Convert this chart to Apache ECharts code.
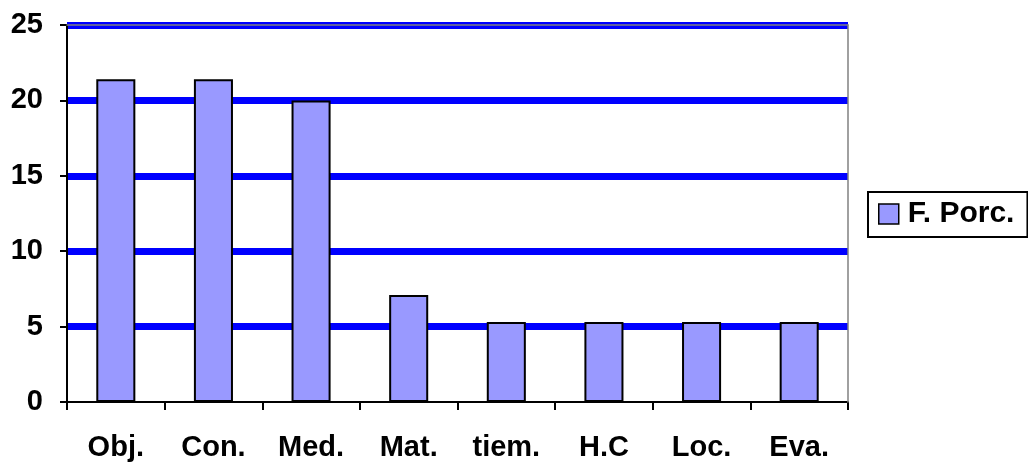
<!DOCTYPE html>
<html>
<head>
<meta charset="utf-8">
<script src="https://cdn.jsdelivr.net/npm/echarts@6/dist/echarts.min.js"></script>
<style>html,body{margin:0;padding:0;background:#fff;}#c{width:1028px;height:465px;}</style>
</head>
<body>
<div id="c"></div>
<script>
var categories = ['Obj.', 'Con.', 'Med.', 'Mat.', 'tiem.', 'H.C', 'Loc.', 'Eva.'];
var values = [21.4, 21.4, 20, 7.1, 5.3, 5.3, 5.3, 5.3];
var seriesName = 'F. Porc.';
var yMin = 0, yMax = 25, yStep = 5;

var font = '"Liberation Sans", Arial, sans-serif';
var chart = echarts.init(document.getElementById('c'), null, {renderer: 'canvas'});
chart.setOption({
  animation: false,
  backgroundColor: '#fff',
  grid: {left: 67, right: 180, top: 25, bottom: 63, containLabel: false},
  legend: {
    left: 868, top: 192,
    orient: 'vertical',
    padding: [7, 13, 8, 10],
    borderColor: '#000', borderWidth: 2,
    itemWidth: 20, itemHeight: 20,
    icon: 'rect',
    itemStyle: {borderColor: '#000', borderWidth: 1.5},
    textStyle: {fontFamily: font, fontWeight: 'bold', fontSize: 30, color: '#000', padding: [0, 0, 0, 4]},
    data: [seriesName]
  },
  xAxis: [{
    type: 'category', data: categories, position: 'bottom',
    axisLine: {lineStyle: {color: '#000', width: 2}},
    axisTick: {show: true, length: 8, alignWithLabel: false, lineStyle: {color: '#000', width: 2}},
    axisLabel: {fontFamily: font, fontWeight: 'bold', fontSize: 29, color: '#000', margin: 31, interval: 0},
    splitLine: {show: false}
  }, {
    type: 'category', data: categories, position: 'top', z: 5,
    axisLine: {onZero: false, lineStyle: {color: '#808080', width: 1.5}},
    axisTick: {show: false}, axisLabel: {show: false}, splitLine: {show: false}
  }],
  yAxis: [{
    type: 'value', min: yMin, max: yMax, interval: yStep, position: 'left',
    axisLine: {show: true, lineStyle: {color: '#000', width: 2}},
    axisTick: {show: true, length: 7, lineStyle: {color: '#000', width: 2}},
    axisLabel: {fontFamily: font, fontWeight: 'bold', fontSize: 29, color: '#000', margin: 24},
    splitLine: {show: true, lineStyle: {color: ['rgba(0,0,0,0)', '#0000ff', '#0000ff', '#0000ff', '#0000ff', '#0000ff'], width: 7}}
  }, {
    type: 'value', min: yMin, max: yMax, interval: yStep, position: 'right', z: 5,
    axisLine: {show: true, onZero: false, lineStyle: {color: '#808080', width: 1.5}},
    axisTick: {show: false}, axisLabel: {show: false}, splitLine: {show: false}
  }],
  series: [{
    name: seriesName, type: 'bar', data: values,
    xAxisIndex: 0, yAxisIndex: 0,
    barWidth: '40%',
    itemStyle: {color: '#9999ff', borderColor: '#000', borderWidth: 2},
    z: 3
  }]
});
</script>
</body>
</html>
